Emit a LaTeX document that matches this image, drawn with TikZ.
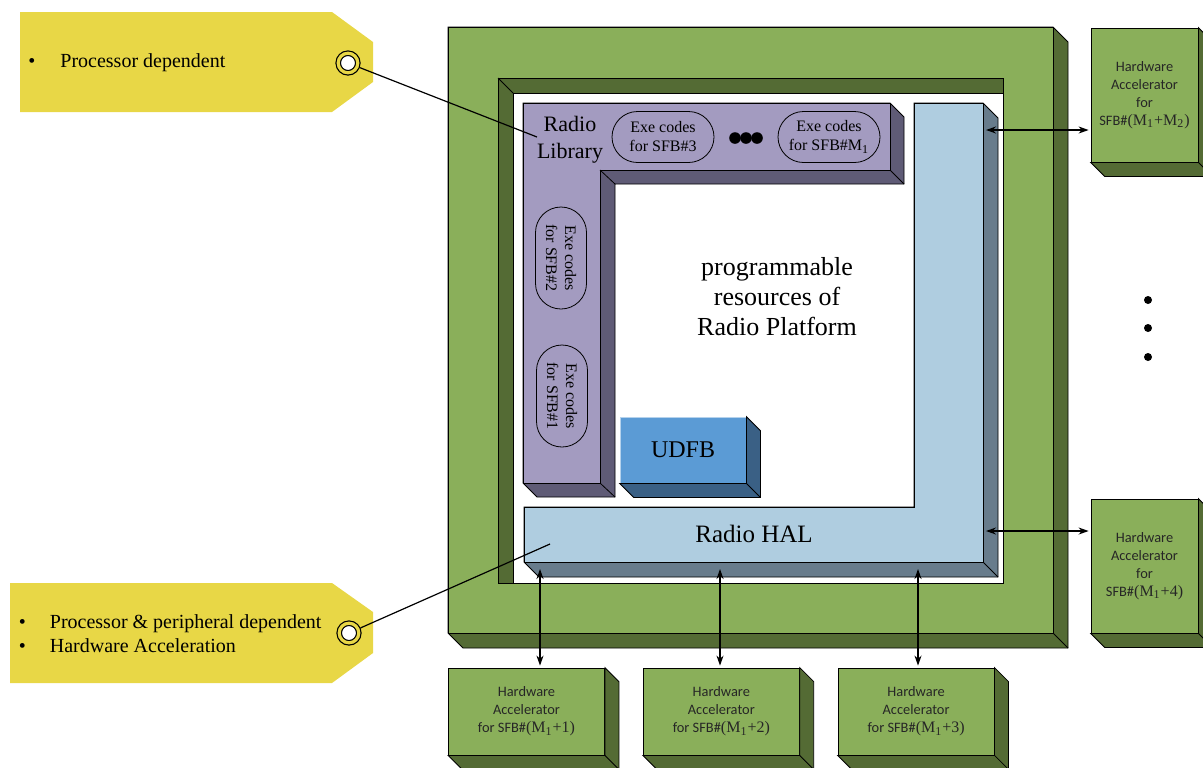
\documentclass[tikz,border=0pt]{standalone}
\usepackage{fontspec}
\setmainfont{Liberation Serif}
\newfontfamily\hwfont{Carlito}
\usetikzlibrary{arrows.meta, positioning, calc, shapes.misc}
\definecolor{framegreen}{RGB}{138,175,90}
\definecolor{darkgreen}{RGB}{84,107,52}
\definecolor{libpurple}{RGB}{163,155,192}
\definecolor{libdark}{RGB}{95,91,118}
\definecolor{halblue}{RGB}{175,205,224}
\definecolor{haldark}{RGB}{104,124,140}
\definecolor{udfbblue}{RGB}{91,155,213}
\definecolor{udfbdark}{RGB}{58,96,133}
\definecolor{tagyellow}{RGB}{232,215,70}

\newcommand{\extrude}[2]{%
  \filldraw[fill=#2] (#1.north east) -- ++(14,14) -- ($(#1.south east)+(14,14)$)
    -- ($(#1.south west)+(14,14)$) -- (#1.south west) -- (#1.south east) -- cycle;
  \draw (#1.south east) -- ++(14,14);}
\newcommand{\sfbidx}[1]{{\rmfamily\fontsize{8}{9}\selectfont(M\textsubscript{1}+#1)}}

\begin{document}
\begin{tikzpicture}[x=0.5pt, y=-0.5pt,
        hwbox/.style={rectangle, draw, fill=framegreen, align=center, inner sep=0pt, text=black!85, font=\hwfont\fontsize{7.2}{9}\selectfont, minimum width=78pt, minimum height=43.5pt},
        sidebox/.style={hwbox, minimum width=53.5pt, minimum height=67pt},
        exebox/.style={rounded rectangle, draw, inner sep=1pt, align=center, font=\fontsize{8}{9.5}\selectfont, minimum width=53pt, minimum height=25.5pt},
        maintext/.style={align=center, font=\fontsize{13}{15}\selectfont},
        ring/.style={circle, draw, line width=0.6pt, fill=white, double=tagyellow, double distance=1.6pt, minimum size=9.8pt, inner sep=0pt, outer sep=1.4pt},
        arrow/.style={{Stealth[length=5pt,width=3.5pt]}-{Stealth[length=5pt,width=3.5pt]}, line width=0.7pt, shorten >=1pt},
        leader/.style={line width=0.6pt},
        node distance=19pt
        ]
        \useasboundingbox (0,0) rectangle (1203,767);
        \clip (0,0) rectangle (1203,767);

        % Platform frame
        \filldraw[fill=darkgreen] (448,27) -- (1053,27) -- (1068,42) -- (1068,648) -- (463,648) -- (448,633) -- cycle;
        \filldraw[fill=framegreen] (448,27) rectangle (1053,633);
        \draw (1053,633) -- (1068,648);
        \filldraw[fill=darkgreen] (498,78) rectangle (1003,583);
        \filldraw[fill=white] (513,93) rectangle (1003,583);
        \draw (498,78) -- (513,93);

        % Radio Library
        \filldraw[fill=libdark] (523,103) -- (890,103) -- (904,117) -- (904,184) -- (615,184) -- (615,497) -- (537,497) -- (523,483) -- cycle;
        \filldraw[fill=libpurple] (523,103) -- (890,103) -- (890,170) -- (600,170) -- (600,483) -- (523,483) -- cycle;
        \draw (890,170) -- (904,184) (600,170) -- (615,184) (600,483) -- (615,497);

        % Radio HAL
        \filldraw[fill=haldark] (914,103) -- (983,103) -- (998,118) -- (998,577) -- (539,577) -- (524,562) -- (524,507) -- (914,507) -- cycle;
        \filldraw[fill=halblue] (914,103) -- (983,103) -- (983,562) -- (524,562) -- (524,507) -- (914,507) -- cycle;
        \draw (983,562) -- (998,577);

        % Tags
        \fill[tagyellow] (20,12) -- (332,12) -- (373,42) -- (373,82) -- (332,112) -- (20,112) -- cycle;
        \fill[tagyellow] (10,583) -- (332,583) -- (373,612) -- (373,653) -- (332,683) -- (10,683) -- cycle;

        % Nodes
        \node (radiolib) [align=center, font=\fontsize{11}{13.5}\selectfont] at (570,140) {Radio\\Library};
        \node (exe3) [exebox] at (663,137) {Exe codes\\for SFB\#3};
        \node (exeM) [exebox] at (829,137) {Exe codes\\for SFB\#M\textsubscript{1}};
        \node (exe2) [exebox, rotate=-90] at (561,258) {Exe codes\\for SFB\#2};
        \node (exe1) [exebox, rotate=-90] at (562,396) {Exe codes\\for SFB\#1};
        \node (platform) [maintext] at (777,297) {programmable\\resources of\\Radio Platform};
        \node (udfb) [draw=white!55!udfbblue, fill=udfbblue, minimum width=63pt, minimum height=33pt, font=\fontsize{12}{14}\selectfont] at (683,450) {UDFB};
        \extrude{udfb}{udfbdark}
        \node (hal) [maintext, font=\fontsize{12.5}{15}\selectfont] at (754,534) {Radio HAL};

        \node (hwtop) [sidebox] at (1144.5,95) {Hardware\\Accelerator\\for\\SFB\#\sfbidx{M\textsubscript{2}}};
        \node (hwright) [sidebox] at (1144.5,566) {Hardware\\Accelerator\\for\\SFB\#\sfbidx{4}};
        \node (hwone) [hwbox] at (526.5,711.5) {Hardware\\Accelerator\\for SFB\#\sfbidx{1}};
        \node (hwtwo) [hwbox, right=of hwone] {Hardware\\Accelerator\\for SFB\#\sfbidx{2}};
        \node (hwthree) [hwbox, right=of hwtwo] {Hardware\\Accelerator\\for SFB\#\sfbidx{3}};
        \foreach \n in {hwtop,hwright,hwone,hwtwo,hwthree} {\extrude{\n}{darkgreen}}

        \node (ringtop) [ring] at (348,63) {};
        \node (ringbot) [ring] at (349,633) {};
        \node (tagtop) [anchor=west, inner sep=0pt, font=\fontsize{10}{12}\selectfont] at (28,63) {\textbullet\hspace{12.5pt}Processor dependent};
        \node (tagbot) [anchor=west, inner sep=0pt, align=left, font=\fontsize{10}{12}\selectfont] at (18.5,634) {\textbullet\hspace{12pt}Processor \& peripheral dependent\\\textbullet\hspace{12pt}Hardware Acceleration};

        % Dots
        \foreach \x in {735,746,757} \fill (\x,138) circle (2.9pt);
        \foreach \y in {300,328,357} \fill (1148,\y) circle (2pt);

        % Connectors
        \coordinate (libpt) at (537,137);
        \coordinate (halpt) at (550,544);
        \coordinate (halR1) at (986,130);
        \coordinate (halR2) at (986,531);
        \coordinate (halB1) at (540,569);
        \coordinate (halB2) at (720,569);
        \coordinate (halB3) at (918,569);
        \draw [leader] (ringtop) -- (libpt);
        \draw [leader] (ringbot) -- (halpt);
        \draw [arrow] (halR1) -- (halR1 -| hwtop.west);
        \draw [arrow] (halR2) -- (halR2 -| hwright.west);
        \draw [arrow] (halB1) -- (halB1 |- hwone.north);
        \draw [arrow] (halB2) -- (halB2 |- hwtwo.north);
        \draw [arrow] (halB3) -- (halB3 |- hwthree.north);

    \end{tikzpicture}
\end{document}
